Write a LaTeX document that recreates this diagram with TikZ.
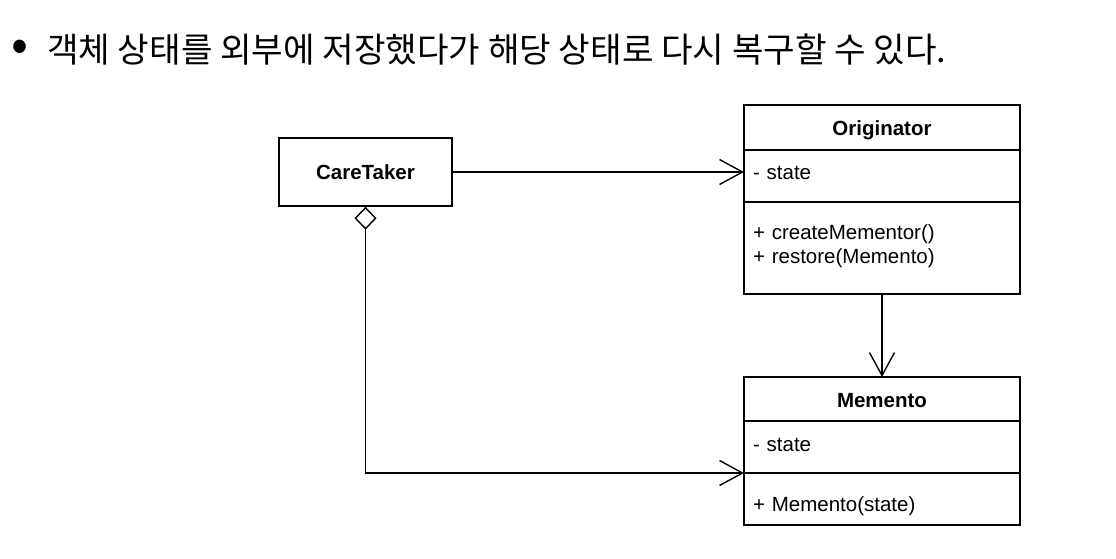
\documentclass[tikz,border=0pt]{standalone}
\usepackage{fontspec}
\setmainfont{Liberation Sans}
\newfontfamily\kofont{Noto Sans CJK KR}
\usetikzlibrary{positioning,arrows.meta}
% move a text up or down without changing its box
\newcommand{\nudge}[2]{\raisebox{#1}[\height][\depth]{#2}}

\begin{document}
\begin{tikzpicture}[x=1pt, y=-1pt,
            every node/.style={rectangle, font=\fontsize{20.5}{24}\selectfont},
            umlbox/.style={draw, line width=1.4pt, minimum width=173pt, minimum height=68pt, font=\fontsize{20.5}{24}\selectfont\bfseries},
            classhead/.style={draw, line width=1.4pt, outer sep=0pt, minimum width=276pt, font=\fontsize{20.5}{24}\selectfont\bfseries},
            classpart/.style={draw, line width=1.4pt, outer sep=0pt, text width=258pt, inner xsep=9pt, align=left},
            assoc/.style={line width=1.4pt, -{Straight Barb[length=23pt, width=25pt, line width=1.4pt]}},
            aggr/.style={line width=1.4pt, {Diamond[open, length=23pt, width=22pt, line width=1.4pt]}-{Straight Barb[length=23pt, width=25pt, line width=1.4pt]}}]
    \useasboundingbox (0,0) rectangle (1116,559);

    % title line
    \node [font=\kofont\fontsize{50}{50}\selectfont, inner sep=0pt] (bullet) at (20,51) {•};
    \node [font=\kofont\fontsize{34.3}{40}\selectfont, inner sep=0pt, anchor=west] (title) at (47,50)
        {객체 상태를 외부에 저장했다가 해당 상태로 다시 복구할 수 있다.};

    % classes
    \node [umlbox] (caretaker) at (365.5,172) {CareTaker};

    \node [classhead, minimum height=45pt] (orighead) at (882,127.5) {\nudge{-3pt}{Originator}};
    \node [classpart, below=0pt of orighead, minimum height=52pt] (origattr) {\nudge{3pt}{- state}};
    \node [classpart, below=0pt of origattr, minimum height=92pt] (origmeth)
        {+ createMementor()\\+ restore(Memento)\\[-16pt]\mbox{}};

    \node [classhead, minimum height=44pt] (memhead) at (882,399) {\nudge{-2pt}{Memento}};
    \node [classpart, below=0pt of memhead, minimum height=52pt] (memattr) {\nudge{2pt}{- state}};
    \node [classpart, below=0pt of memattr, minimum height=52pt] (memmeth) {\nudge{-7pt}{+ Memento(state)}};

    % relations
    \draw [assoc] (caretaker.east) -- (caretaker.east -| origattr.west);
    \draw [assoc] (origmeth.south) -- (memhead.north);
    \draw [aggr] (caretaker.south) |- (memattr.south west);
\end{tikzpicture}
\end{document}
